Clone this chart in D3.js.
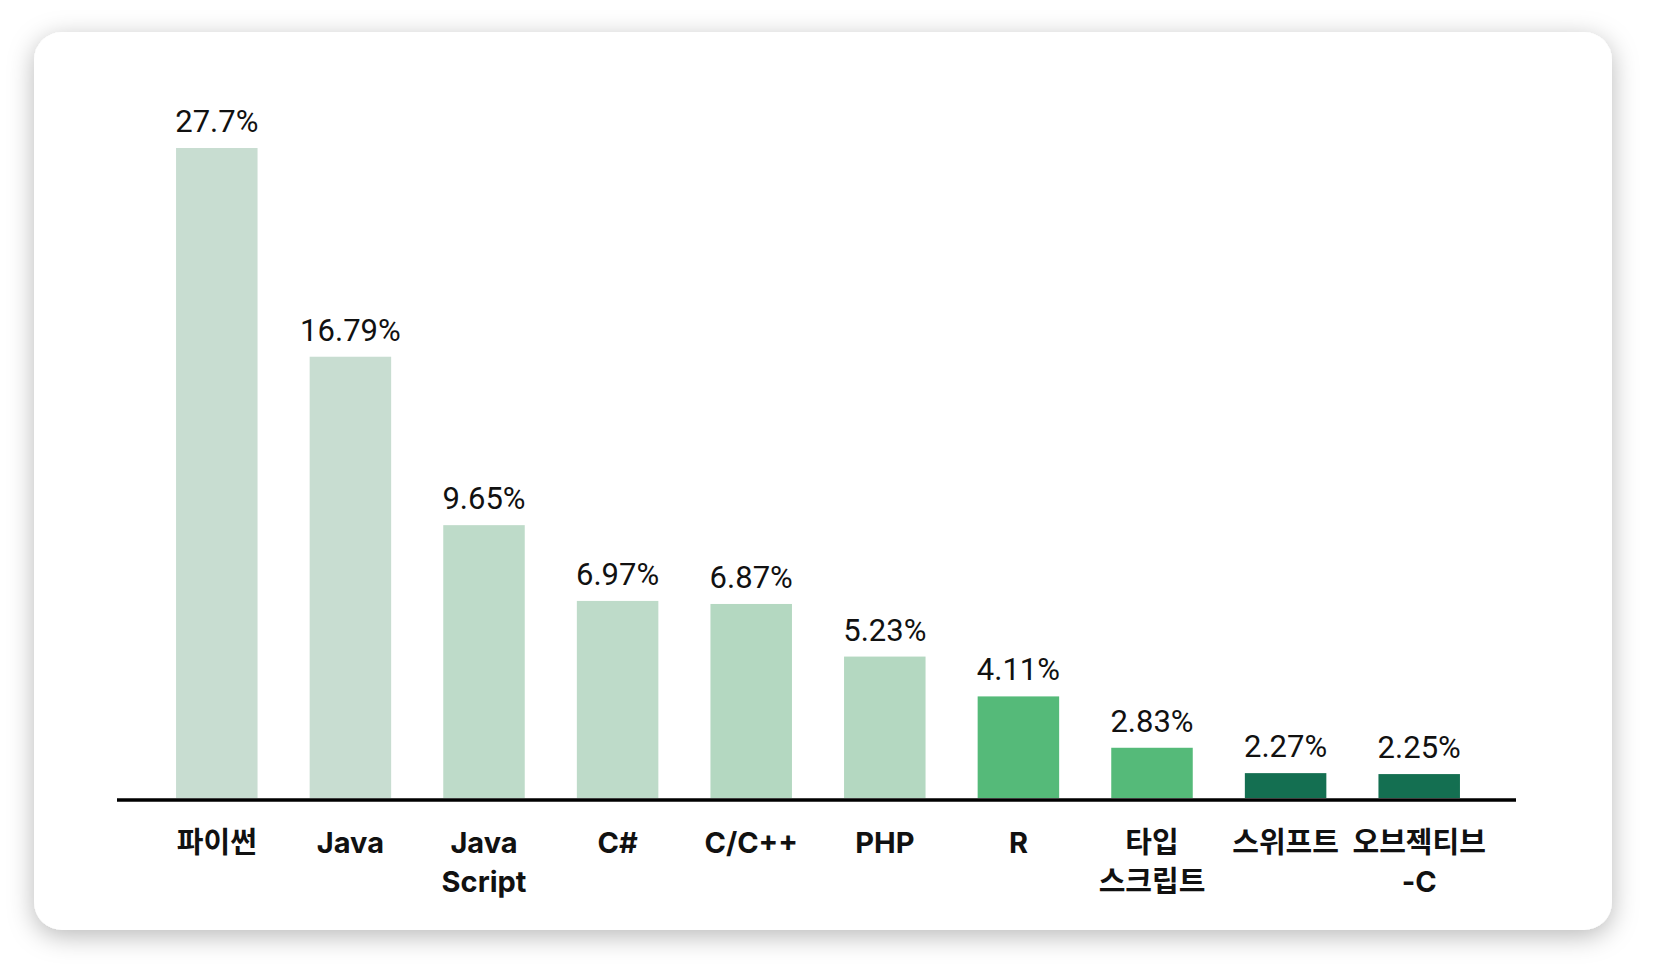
<!DOCTYPE html>
<html>
<head>
<meta charset="utf-8">
<script src="https://cdn.jsdelivr.net/npm/d3@7"></script>
<style>
  html, body { margin: 0; padding: 0; background: #fff; }
  svg { display: block; }
</style>
</head>
<body>
<svg id="chart" width="1658" height="978"></svg>
<script>
const categories = ["파이썬", "Java", "JavaScript", "C#", "C/C++", "PHP", "R", "타입스크립트", "스위프트", "오브젝티브-C"];
const tickLines = [["파이썬"], ["Java"], ["Java", "Script"], ["C#"], ["C/C++"], ["PHP"], ["R"], ["타입", "스크립트"], ["스위프트"], ["오브젝티브", "-C"]];
const shares = [27.7, 16.79, 9.65, 6.97, 6.87, 5.23, 4.11, 2.83, 2.27, 2.25];
const palette = ["#c8ddd1", "#c8ddd1", "#bedbc9", "#bedbc9", "#b4d8c1", "#b4d8c1", "#55ba79", "#55ba79", "#146f51", "#146f51"];

const W = 1658, H = 978;
const baseY = 798, topY = 148;
const svg = d3.select("#chart");

// card + soft shadow
const defs = svg.append("defs");
const f = defs.append("filter").attr("id", "shadow")
  .attr("x", "-10%").attr("y", "-10%").attr("width", "120%").attr("height", "125%");
f.append("feDropShadow").attr("dx", 0).attr("dy", 6).attr("stdDeviation", 13)
  .attr("flood-color", "#000").attr("flood-opacity", 0.28);
svg.append("rect").attr("x", 34).attr("y", 32).attr("width", 1578).attr("height", 898)
  .attr("rx", 28).attr("fill", "#fff").attr("filter", "url(#shadow)");

const x = d3.scaleBand().domain(categories).range([150, 1486])
  .paddingInner(0.39).paddingOuter(0.195);
// compressed height scale, like the original infographic
const y = d3.scalePow().exponent(0.6).domain([1.77, d3.max(shares)]).range([baseY, topY]);
const color = d3.scaleOrdinal(categories, palette);

const data = categories.map((c, i) => ({ name: c, value: shares[i], lines: tickLines[i] }));
const g = svg.append("g");

g.selectAll(".bar").data(data).join("rect").attr("class", "bar")
  .attr("x", d => x(d.name)).attr("width", x.bandwidth())
  .attr("y", d => y(d.value)).attr("height", d => baseY - y(d.value))
  .attr("fill", d => color(d.name));

g.selectAll(".val").data(data).join("text").attr("class", "val")
  .attr("x", d => x(d.name) + x.bandwidth() / 2).attr("y", d => y(d.value) - 16)
  .attr("text-anchor", "middle")
  .style("font-family", "Roboto, 'Noto Sans CJK KR', sans-serif")
  .style("font-size", "31px").style("fill", "#111")
  .text(d => d.value + "%");

// axis
const ax = g.append("g").attr("transform", `translate(0,${baseY + 2})`)
  .call(d3.axisBottom(x).tickSize(0).tickFormat(""));
ax.select(".domain").remove();
g.append("line").attr("x1", 117).attr("x2", 1516).attr("y1", baseY + 2).attr("y2", baseY + 2)
  .attr("stroke", "#000").attr("stroke-width", 3.6);

const lbl = ax.selectAll(".tick").append("text")
  .attr("text-anchor", "middle").attr("fill", "#111")
  .style("font-family", "Inter, 'Noto Sans CJK KR', sans-serif")
  .style("font-size", "29px").style("font-weight", "700");
lbl.each(function(d) {
  const lines = tickLines[categories.indexOf(d)];
  d3.select(this).selectAll("tspan").data(lines).join("tspan")
    .attr("x", 0).attr("y", (l, i) => 53 + i * 39)
    .text(l => l);
});
</script>
</body>
</html>
